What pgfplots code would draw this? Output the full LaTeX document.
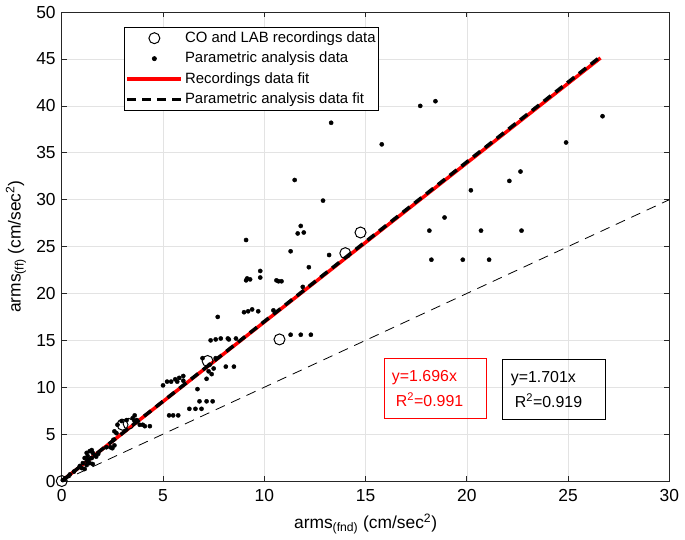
\documentclass[border=0pt]{standalone}
\usepackage{fontspec}
\setmainfont{Liberation Sans}
\usepackage{pgfplots}
\pgfplotsset{compat=1.18}
\begin{document}
\fontsize{18}{21}\selectfont
\begin{tikzpicture}
\begin{axis}[
 scale only axis, width=609bp, height=470bp,
 xmin=0,xmax=30,ymin=0,ymax=50,
 xtick={0,5,...,30}, ytick={0,5,...,50},
 grid=major, grid style={gray!22, line width=0.6bp},
 axis line style={black!85, line width=0.7bp},
 tick style={black!85, line width=0.7bp}, major tick length=5bp, tick align=inside,
 /pgf/number format/assume math mode=true,
 tick label style={font=\fontsize{17.5}{20}\selectfont},
 xticklabel style={yshift=-2bp},
 label style={font=\fontsize{17.5}{20}\selectfont},
 xlabel={arms\textsubscript{(fnd)} (cm/sec\textsuperscript{2})},
 ylabel={arms\textsubscript{(ff)} (cm/sec\textsuperscript{2})},
 ylabel style={yshift=-2bp},
 legend style={at={(0.103,0.968)}, anchor=north west, draw=black, line width=0.7bp,
   font=\fontsize{15}{17}\selectfont, cells={anchor=west}, row sep=3bp, inner sep=2bp,
   inner xsep=1bp},
 legend image code/.code={\draw[mark repeat=2,mark phase=2,#1] plot coordinates {(3bp,0bp) (30bp,0bp) (57bp,0bp)};},
]
\addplot[only marks, mark=o, mark size=5.5bp, mark options={line width=1bp}, black] coordinates {
(0,0) (3.0,6.0) (3.3,6.1) (7.2,12.8) (10.75,15.1) (14.0,24.3) (14.75,26.5)
};
\addlegendentry{CO and LAB recordings data}
\addplot[only marks, mark=*, mark size=2.1bp, black] table {
x y
18.45 40.5
17.7 40.0
26.7 38.9
13.3 38.2
24.9 36.1
15.8 35.9
22.65 33.0
11.5 32.1
22.1 32.0
20.2 31.0
12.9 29.9
18.9 28.1
11.8 27.2
18.15 26.7
20.7 26.7
22.7 26.7
11.65 26.4
11.95 26.5
9.1 25.7
11.3 24.5
13.2 24.1
18.25 23.6
19.8 23.6
21.1 23.6
12.2 22.8
9.8 22.4
9.8 21.7
9.1 21.4
9.15 21.6
9.3 21.5
10.6 21.4
10.7 21.3
10.85 21.3
11.9 20.7
9.0 18.0
9.2 18.1
9.4 18.3
9.7 18.1
10.45 18.2
7.7 17.5
11.3 15.6
11.8 15.6
12.3 15.6
7.35 15.0
7.6 15.1
7.85 15.2
8.2 15.2
8.25 15.1
8.6 15.2
6.95 13.1
7.6 13.1
7.25 11.7
7.15 10.9
7.5 12.0
7.3 12.4
7.4 11.4
8.1 12.2
8.5 12.2
6.7 9.8
6.8 8.5
7.15 8.5
7.45 8.5
6.3 7.7
6.6 7.7
6.9 7.7
5.3 7.0
5.5 7.0
5.75 7.0
5.0 10.2
5.2 10.6
5.4 10.6
5.6 10.85
5.7 10.6
5.8 11.0
6.0 11.2
6.0 10.7
2.75 6.0
2.95 6.4
3.2 6.5
3.5 6.7
3.6 6.4
3.85 6.0
4.1 5.85
4.35 5.85
3.6 7.0
3.7 6.5
4.0 6.0
2.55 4.4
2.7 5.1
2.6 3.8
2.6 5.3
2.4 3.6
2.5 3.5
2.2 3.6
1.23 3.0
1.28 2.66
1.38 3.19
1.48 3.3
1.53 3.0
1.63 2.77
1.13 2.45
1.28 2.23
1.48 2.45
1.04 1.91
1.23 1.7
1.38 1.91
1.53 1.81
0.89 1.6
0.99 1.38
1.13 1.28
1.7 2.6
1.8 2.9
0.6 1.0
0.4 0.7
0.05 0.1
0.15 0.2
};
\addlegendentry{Parametric analysis data}
\addplot[red, line width=3.5bp] coordinates {(0,0) (26.6,45.11)};
\addlegendentry{Recordings data fit}
\addplot[black, line width=3.5bp, dash pattern=on 9bp off 6bp] coordinates {(0,0) (26.6,45.25)};
\addlegendentry{Parametric analysis data fit}
\addplot[black, line width=0.8bp, dash pattern=on 10bp off 7bp, forget plot] coordinates {(0,0) (30,30)};
\node[draw=red, text=red, line width=0.8bp, minimum width=103bp, minimum height=60bp, anchor=north west,
  align=left, inner xsep=8bp, text width=87bp, font=\fontsize{16}{19}\selectfont]
  at (axis cs:15.89,13.09) {y=1.696x\\[6bp]\hspace*{4bp}R\textsuperscript{2}=0.991};
\node[draw=black, text=black, line width=0.8bp, minimum width=103bp, minimum height=60bp, anchor=north west,
  align=left, inner xsep=8bp, text width=87bp, font=\fontsize{16}{19}\selectfont]
  at (axis cs:21.76,12.98) {y=1.701x\\[6bp]\hspace*{4bp}R\textsuperscript{2}=0.919};
\end{axis}
\end{tikzpicture}
\end{document}
